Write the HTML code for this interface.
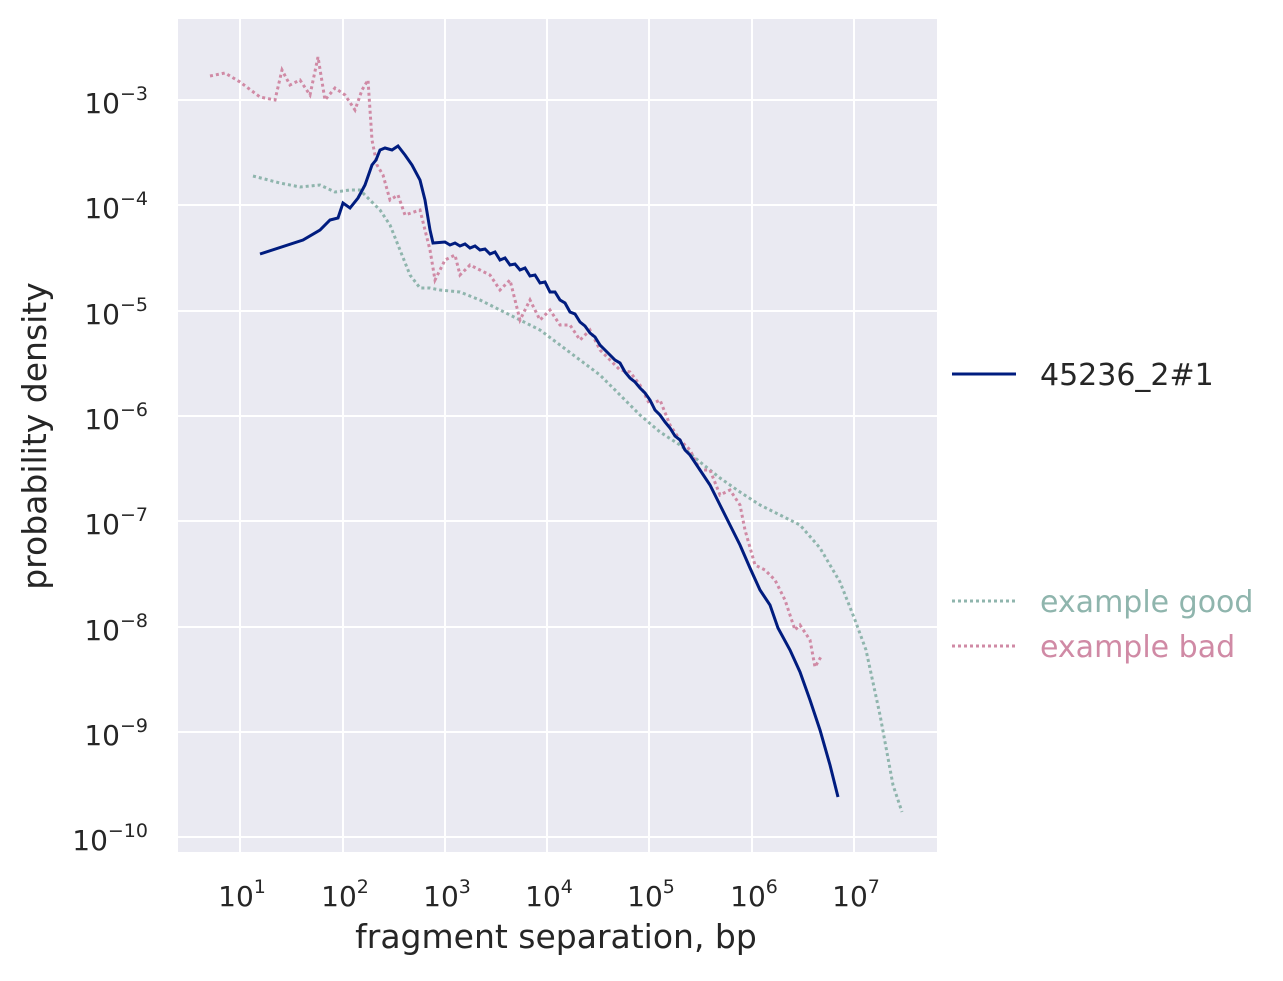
<!DOCTYPE html>
<html><head><meta charset="utf-8"><style>
body{margin:0;background:#fff;}
svg text{font-family:"DejaVu Sans","Liberation Sans",sans-serif;fill:#262626;}
</style></head><body>
<svg width="1283" height="976" viewBox="0 0 1283 976" xmlns="http://www.w3.org/2000/svg">
<rect x="178" y="19" width="759" height="833" fill="#eaeaf2"/>
<g stroke="#fff" stroke-width="2">
<line x1="240" y1="19" x2="240" y2="852"/><line x1="343" y1="19" x2="343" y2="852"/>
<line x1="445" y1="19" x2="445" y2="852"/><line x1="547" y1="19" x2="547" y2="852"/>
<line x1="649" y1="19" x2="649" y2="852"/><line x1="752" y1="19" x2="752" y2="852"/>
<line x1="854" y1="19" x2="854" y2="852"/>
<line x1="178" y1="100" x2="937" y2="100"/><line x1="178" y1="205" x2="937" y2="205"/>
<line x1="178" y1="311" x2="937" y2="311"/><line x1="178" y1="416" x2="937" y2="416"/>
<line x1="178" y1="521" x2="937" y2="521"/><line x1="178" y1="627" x2="937" y2="627"/>
<line x1="178" y1="732" x2="937" y2="732"/><line x1="178" y1="837" x2="937" y2="837"/>
</g>
<polyline fill="none" stroke="#8fb5ad" stroke-width="3" stroke-dasharray="3,3" points="253,176 280,183 300,187 320,185 335,192 350,190 360,190 370,200 380,210 390,225 400,250 410,275 420,288 430,288 440,290 460,292 480,300 500,310 520,320 540,330 560,345 580,360 600,375 620,395 640,415 660,432 680,445 700,462 720,478 740,492 760,505 780,515 800,525 820,548 840,582 855,620 866,650 880,715 893,785 902,812"/>
<polyline fill="none" stroke="#d08aa5" stroke-width="3" stroke-dasharray="3,3" points="210,76 225,73 240,82 260,97 275,100 282,70 290,85 300,80 310,95 318,57 325,100 335,88 345,95 355,110 362,90 368,80 372,140 377,165 383,175 390,200 398,195 405,215 420,210 430,250 435,280 445,260 455,255 460,275 470,265 480,270 490,275 500,290 510,280 520,320 530,300 540,320 550,310 560,325 570,325 580,340 590,330 600,350 610,360 620,370 630,372 640,385 650,405 660,400 670,425 680,440 690,450 700,470 710,470 720,495 730,490 740,505 745,530 755,565 765,570 775,580 785,600 795,630 800,625 810,640 815,667 822,655"/>
<polyline fill="none" stroke="#001c7f" stroke-width="3" points="260,254 303,240 320,230 330,220 338,218 343,203 350,208 358,198 365,185 372,165 376,160 380,150 385,148 392,150 398,146 405,155 412,165 420,180 425,200 430,230 433,243 445,242 450,245 455,243 460,246 465,244 470,248 475,246 480,250 485,249 490,254 495,252 500,260 505,258 510,265 515,264 520,270 525,268 530,276 535,275 540,283 545,282 550,292 555,292 560,300 565,303 570,312 575,314 580,322 585,326 590,333 595,337 600,345 605,350 610,355 615,360 620,363 625,372 630,378 635,382 640,388 645,393 650,400 655,410 660,415 665,422 670,428 675,436 680,440 685,450 690,455 700,470 710,485 720,505 730,525 740,545 750,568 760,590 770,605 778,628 790,650 800,672 810,700 820,730 830,765 838,797"/>
<g font-size="28" text-anchor="middle">
<text x="242" y="906">10<tspan font-size="19" dy="-13">1</tspan></text>
<text x="345" y="906">10<tspan font-size="19" dy="-13">2</tspan></text>
<text x="447" y="906">10<tspan font-size="19" dy="-13">3</tspan></text>
<text x="549" y="906">10<tspan font-size="19" dy="-13">4</tspan></text>
<text x="651" y="906">10<tspan font-size="19" dy="-13">5</tspan></text>
<text x="754" y="906">10<tspan font-size="19" dy="-13">6</tspan></text>
<text x="856" y="906">10<tspan font-size="19" dy="-13">7</tspan></text>
</g>
<g font-size="28" text-anchor="end">
<text x="148" y="113">10<tspan font-size="19" dy="-13">−3</tspan></text>
<text x="148" y="218">10<tspan font-size="19" dy="-13">−4</tspan></text>
<text x="148" y="324">10<tspan font-size="19" dy="-13">−5</tspan></text>
<text x="148" y="429">10<tspan font-size="19" dy="-13">−6</tspan></text>
<text x="148" y="534">10<tspan font-size="19" dy="-13">−7</tspan></text>
<text x="148" y="640">10<tspan font-size="19" dy="-13">−8</tspan></text>
<text x="148" y="745">10<tspan font-size="19" dy="-13">−9</tspan></text>
<text x="148" y="850">10<tspan font-size="19" dy="-13">−10</tspan></text>
</g>
<text x="556" y="948" font-size="33" text-anchor="middle">fragment separation, bp</text>
<text transform="translate(46,436) rotate(-90)" font-size="33" text-anchor="middle">probability density</text>
<line x1="952" y1="374" x2="1016" y2="374" stroke="#001c7f" stroke-width="3"/>
<text x="1040" y="385" font-size="30">45236_2#1</text>
<line x1="952" y1="601" x2="1016" y2="601" stroke="#8fb5ad" stroke-width="3" stroke-dasharray="3,3"/>
<text x="1040" y="612" font-size="30" style="fill:#8fb5ad">example good</text>
<line x1="952" y1="646" x2="1016" y2="646" stroke="#d08aa5" stroke-width="3" stroke-dasharray="3,3"/>
<text x="1040" y="657" font-size="30" style="fill:#d08aa5">example bad</text>
</svg>
</body></html>
